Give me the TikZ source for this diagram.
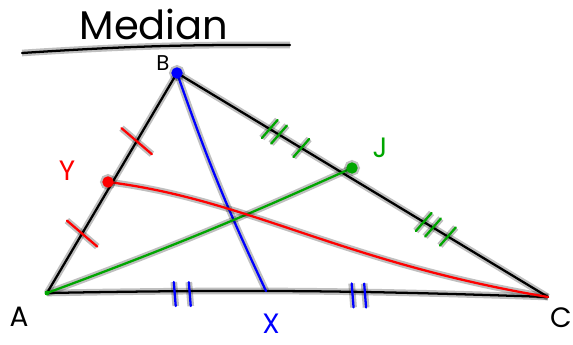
\documentclass[tikz,border=0pt]{standalone}
\usepackage{fontspec}
\setmainfont{Poppins}
\usetikzlibrary{calc}

\begin{document}
\begin{tikzpicture}[
    x=0.75pt, y=-0.75pt, % une unité = un pixel de l'image
    % Trait à main levée, avec un halo léger
    trait/.style={line width=1.7pt, line cap=round, line join=round,
        preaction={draw, line width=5pt, opacity=0.25}},
    noir/.style={trait, black},
    bleu/.style={trait, blue},
    vert/.style={trait, green!65!black},
    rouge/.style={trait, red},
    etiq/.style={font=\fontsize{21}{21}\selectfont, inner sep=0pt}, % Lettres des points
    point/.style={trait, fill=white}
]
\useasboundingbox (0,0) rectangle (573,345);

% Titre
\node[font=\fontsize{30}{30}\selectfont, inner sep=0pt] (titre) at (154,24) {Median};
\coordinate (s1) at (22,53);
\coordinate (s2) at (290,45);
\draw[noir] (s1) to[bend left=2] (s2);

% Sommets et milieux
\coordinate (A) at (47,293);
\coordinate (B) at (177,73);
\coordinate (C) at (548,297);
\coordinate (Y) at (108,182);
\coordinate (J) at (352,168);
\coordinate (X) at (266,291);

% Triangle
\draw[noir] (A) -- (B) -- (C);
\draw[noir] (A) to[bend left=1.5] (C);

% Médianes
\draw[bleu] (B) to[bend right=3] (X);
\draw[vert] (A) to[bend right=2] (J);
\draw[rouge] (Y) .. controls (250,200) and (340,262) .. (C);

% Codages des segments égaux
\foreach \t in {0.27,0.69} {
    \coordinate (m) at ($(A)!\t!(B)$);
    \draw[rouge] ($(m)!15pt!80:(B)$) -- ($(m)!15pt!-100:(B)$);
}
\foreach \t in {0.255,0.285,0.61,0.635} {
    \coordinate (m) at ($(A)!\t!(C)$);
    \draw[bleu] ($(m)!9pt!95:(C)$) -- ($(m)!9pt!-85:(C)$);
}
\foreach \t in {0.25,0.275,0.335,0.665,0.69,0.73} {
    \coordinate (m) at ($(B)!\t!(C)$);
    \draw[vert] ($(m)!9pt!80:(C)$) -- ($(m)!9pt!-100:(C)$);
}

% Points
\fill[green!65!black] (A) circle (2.5);
\draw[point, blue] (B) circle (4.5);
\draw[point, red] (Y) circle (4.5);
\draw[point, green!65!black] (J) circle (4.5);

% Étiquettes
\node[etiq] (labA) at (19,317) {A};
\node[etiq, font=\fontsize{16}{16}\selectfont] (labB) at (163,63) {B};
\node[etiq] (labC) at (561,318) {C};
\node[etiq, blue] (labX) at (271,324) {X};
\node[etiq, green!65!black] (labJ) at (380,148) {J};
\node[etiq, red] (labY) at (67,171) {Y};
\end{tikzpicture}
\end{document}
